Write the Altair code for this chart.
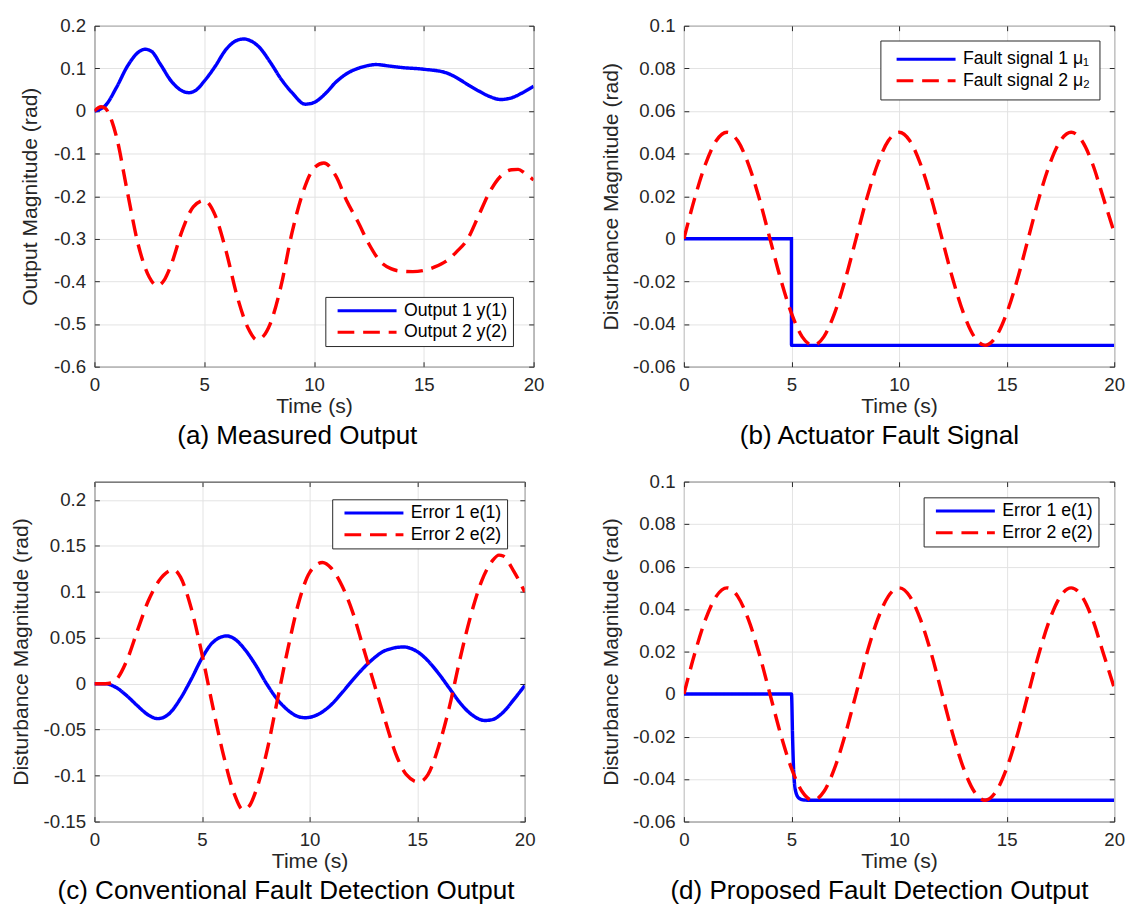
import altair as alt
import pandas as pd

FONT = "Liberation Sans"
INK = "#262626"
GRID = "#e2e2e2"
BLUE = "#0000ff"
RED = "#ff0000"
DASH = [17, 9]

# ---------------- (a) Measured Output ----------------
a_lab = ["Output 1 y(1)", "Output 2 y(2)"]
a_t1 = [0, 0.5, 1.0, 1.5, 2.0, 2.3, 2.6, 3.0, 3.5, 4.0, 4.3, 4.6, 5.0, 5.5, 6.0, 6.5,
        6.8, 7.1, 7.5, 8.0, 8.5, 9.0, 9.6, 10.0, 10.5, 11.0, 11.5, 12.0, 12.5, 12.8,
        13.5, 14.0, 15.0, 16.0, 16.5, 17.0, 17.5, 18.0, 18.5, 19.0, 19.5, 20.0]
a_v1 = [0.0, 0.013, 0.055, 0.105, 0.138, 0.145, 0.14, 0.11, 0.07, 0.047, 0.043, 0.048,
        0.07, 0.105, 0.145, 0.166, 0.169, 0.165, 0.15, 0.115, 0.075, 0.043, 0.016, 0.02,
        0.04, 0.068, 0.088, 0.1, 0.107, 0.109, 0.105, 0.102, 0.098, 0.09, 0.078, 0.062,
        0.047, 0.034, 0.027, 0.031, 0.043, 0.058]
a_t2 = [0, 0.3, 0.5, 0.8, 1.0, 1.5, 2.0, 2.5, 2.85, 3.2, 3.5, 4.0, 4.5, 5.0, 5.5, 6.0,
        6.5, 7.0, 7.4, 7.7, 8.0, 8.5, 9.0, 9.5, 10.0, 10.45, 11.0, 11.5, 12.0, 12.5,
        13.0, 13.5, 14.0, 14.5, 15.0, 15.5, 16.0, 16.5, 17.0, 17.5, 18.0, 18.5, 19.0,
        19.3, 19.6, 20.0]
a_v2 = [0, 0.01, 0.006, -0.025, -0.06, -0.19, -0.315, -0.39, -0.41, -0.395, -0.36,
        -0.28, -0.225, -0.21, -0.245, -0.33, -0.435, -0.51, -0.537, -0.528, -0.5, -0.41,
        -0.285, -0.19, -0.134, -0.122, -0.153, -0.212, -0.26, -0.312, -0.352, -0.37,
        -0.376, -0.377, -0.374, -0.366, -0.353, -0.33, -0.3, -0.245, -0.19, -0.153,
        -0.138, -0.137, -0.146, -0.162]
a_ticks = [-0.6, -0.5, -0.4, -0.3, -0.2, -0.1, 0, 0.1, 0.2]

# ---------------- (b) Actuator Fault Signal ----------------
b_lab = ["Fault signal 1 \u03bc\u2081", "Fault signal 2 \u03bc\u2082"]
b_t1 = [0, 4.999, 5, 20]
b_v1 = [0, 0, -0.05, -0.05]
b_t2 = [0, 0.5, 1, 1.5, 2, 2.5, 3, 3.5, 4, 4.5, 5, 5.5, 6, 6.5, 7, 7.5, 8, 8.5, 9, 9.5,
        10, 10.5, 11, 11.5, 12, 12.5, 13, 13.5, 14, 14.5, 15, 15.5, 16, 16.5, 17, 17.5,
        18, 18.5, 19, 19.5, 20]
b_v2 = [0, 0.019, 0.035, 0.046, 0.05, 0.046, 0.035, 0.019,
        0, -0.019, -0.035, -0.046, -0.05, -0.046, -0.035, -0.019,
        0, 0.019, 0.035, 0.046, 0.05, 0.046, 0.035, 0.019,
        0, -0.019, -0.035, -0.046, -0.05, -0.046, -0.035, -0.019,
        0, 0.019, 0.035, 0.046, 0.05, 0.046, 0.035, 0.019, 0.003]
bd_ticks = [-0.06, -0.04, -0.02, 0, 0.02, 0.04, 0.06, 0.08, 0.1]

# ---------------- (c) Conventional Fault Detection Output ----------------
cd_lab = ["Error 1 e(1)", "Error 2 e(2)"]
c_t1 = [0, 0.5, 1.0, 1.5, 2.0, 2.5, 2.95, 3.5, 4.0, 4.5, 5.0, 5.5, 6.15, 6.5, 7.0, 7.5,
        8.0, 8.5, 9.0, 9.5, 9.8, 10.5, 11.0, 11.5, 12.0, 12.5, 13.0, 13.5, 14.36, 15.0,
        15.5, 16.0, 16.5, 17.0, 17.5, 18.16, 18.5, 19.0, 19.5, 20.0]
c_v1 = [0, 0, -0.004, -0.013, -0.024, -0.034, -0.038, -0.032, -0.016, 0.005, 0.028,
        0.045, 0.052, 0.049, 0.037, 0.02, 0.0, -0.017, -0.029, -0.036, -0.037, -0.032,
        -0.023, -0.01, 0.004, 0.017, 0.028, 0.036, 0.04, 0.035, 0.025, 0.011, -0.005,
        -0.021, -0.033, -0.04, -0.039, -0.031, -0.017, -0.002]
c_t2 = [0, 0.5, 0.8, 1.0, 1.5, 2.0, 2.5, 3.0, 3.5, 3.7, 4.0, 4.5, 5.0, 5.5, 6.0, 6.5,
        6.9, 7.2, 7.5, 8.0, 8.5, 9.0, 9.5, 10.0, 10.6, 11.0, 11.5, 12.0, 12.5, 13.0,
        13.5, 14.0, 14.5, 15.07, 15.5, 16.0, 16.5, 17.0, 17.5, 18.0, 18.5, 18.8, 19.0,
        19.5, 20.0]
c_v2 = [0, 0, 0.001, 0.004, 0.025, 0.058, 0.09, 0.112, 0.123, 0.124, 0.116, 0.082,
        0.032, -0.025, -0.078, -0.12, -0.137, -0.133, -0.117, -0.075, -0.018, 0.039,
        0.089, 0.121, 0.132, 0.126, 0.107, 0.078, 0.039, 0.0, -0.039, -0.076, -0.099,
        -0.107, -0.099, -0.068, -0.025, 0.028, 0.075, 0.112, 0.134, 0.14, 0.139, 0.122,
        0.1]
c_ticks = [-0.15, -0.1, -0.05, 0, 0.05, 0.1, 0.15, 0.2]

# ---------------- (d) Proposed Fault Detection Output ----------------
d_t1 = [0, 2.5, 5.0, 5.05, 5.1, 5.2, 5.35, 5.6, 6.0, 10, 15, 20]
d_v1 = [0, 0, 0, -0.02, -0.036, -0.046, -0.049, -0.0499, -0.05, -0.05, -0.05, -0.05]
d_t2 = b_t2
d_v2 = b_v2

x_ticks = [0, 5, 10, 15, 20]

TICK = 5  # inward tick length


def panel(labels, series, ydom, yticks, ytitle, lorient, loffset, lpad, lclip, lrow,
          caption, width, height, extent, tpad, dx):
    leg = alt.Legend(
        orient=lorient, offset=loffset, title=None,
        labelFont=FONT, labelFontSize=18, labelColor="#000000", labelLimit=400,
        symbolType="stroke", symbolSize=3600, symbolStrokeWidth=3,
        strokeColor=INK, fillColor="white", padding=lpad, rowPadding=lrow,
        clipHeight=lclip, symbolOffset=6, labelOffset=6,
    )
    color = alt.Color("s:N", scale=alt.Scale(domain=labels, range=[BLUE, RED]), legend=leg)
    dash = alt.StrokeDash("s:N", scale=alt.Scale(domain=labels, range=[[1, 0], DASH]),
                          legend=leg)
    xscale = alt.Scale(domain=[0, 20], nice=False, zero=False)
    yscale = alt.Scale(domain=ydom, nice=False, zero=False)
    xenc = alt.X(
        "t:Q", scale=xscale,
        axis=alt.Axis(orient="bottom", values=x_ticks, title="Time (s)", labelFlush=False,
                      ticks=True, tickSize=TICK, tickColor=INK, offset=-TICK,
                      domain=False, grid=True, gridColor=GRID,
                      labelPadding=9, titlePadding=2, labelFontSize=19,
                      titleFontSize=21.5),
    )
    yenc = alt.Y(
        "v:Q", scale=yscale,
        axis=alt.Axis(orient="left", values=yticks, title=ytitle,
                      labelExpr="'' + round(datum.value*1000)/1000",
                      ticks=True, tickSize=TICK, tickColor=INK, offset=-TICK,
                      domain=False, grid=True, gridColor=GRID,
                      labelPadding=9, minExtent=extent + TICK, maxExtent=extent + TICK,
                      titlePadding=tpad, labelFontSize=19, titleFontSize=21.5),
    )
    frames = []
    for k, (lab, t, v) in enumerate(series):
        frames.append(pd.DataFrame({"t": t, "v": v, "s": lab, "k": k,
                                    "i": list(range(len(t)))}))
    df = pd.concat(frames, ignore_index=True)
    lines = (
        alt.Chart(df)
        .mark_line(interpolate="monotone", strokeWidth=3.5, clip=True)
        .encode(x=xenc, y=yenc, color=color, strokeDash=dash, order=alt.Order("i:Q"))
    )
    # inward ticks on the top and right edges (MATLAB box style)
    dummy = alt.Chart(df).mark_line(opacity=0).encode(
        x=alt.X("t:Q", scale=xscale,
                axis=alt.Axis(orient="top", values=x_ticks, title="", labels=False,
                              ticks=True, tickSize=TICK, tickColor=INK, offset=-TICK,
                              domain=False, grid=False, minExtent=0, maxExtent=0)),
        y=alt.Y("v:Q", scale=yscale,
                axis=alt.Axis(orient="right", values=yticks, title="", labels=False,
                              ticks=True, tickSize=TICK, tickColor=INK, offset=-TICK,
                              domain=False, grid=False, minExtent=0, maxExtent=0)),
        detail="s:N",
    )
    return alt.layer(lines, dummy).resolve_axis(x="independent", y="independent").properties(
        width=width, height=height,
        title=alt.TitleParams(caption, orient="bottom", anchor="middle", frame="group",
                              dx=dx, offset=6, fontSize=26.5, font=FONT,
                              fontWeight="normal", color="#000000"),
    )


pa = panel(a_lab, [(a_lab[0], a_t1, a_v1), (a_lab[1], a_t2, a_v2)],
           [-0.6, 0.2], a_ticks, "Output Magnitude (rad)", "bottom-right", 21, 5, 18, 4,
           "(a) Measured Output", 447, 347, 42, 12, -17)
pb = panel(b_lab, [(b_lab[0], b_t1, b_v1), (b_lab[1], b_t2, b_v2)],
           [-0.06, 0.1], bd_ticks, "Disturbance Magnitude (rad)", "top-right", 15, 9, 20, 2,
           "(b) Actuator Fault Signal", 438, 347, 53, 10, -20)
pc = panel(cd_lab, [(cd_lab[0], c_t1, c_v1), (cd_lab[1], c_t2, c_v2)],
           [-0.15, 0.22], c_ticks, "Disturbance Magnitude (rad)", "top-right", 18, 5, 18, 4,
           "(c) Conventional Fault Detection Output", 438, 346, 52, 11, -24)
pd_ = panel(cd_lab, [(cd_lab[0], d_t1, d_v1), (cd_lab[1], d_t2, d_v2)],
            [-0.06, 0.1], bd_ticks, "Disturbance Magnitude (rad)", "top-right", 16, 5, 18, 4,
            "(d) Proposed Fault Detection Output", 438, 346, 53, 10, -20)

chart = (
    alt.concat(pa, pb, pc, pd_, columns=2,
               spacing={"row": 22, "column": 55},
               align={"row": "all", "column": "none"})
    .resolve_scale(color="independent", strokeDash="independent")
    .properties(padding={"left": 2, "top": 0, "right": 0, "bottom": 0})
    .configure(font=FONT)
    .configure_view(stroke=INK, strokeWidth=1)
    .configure_axis(labelFont=FONT, titleFont=FONT, labelColor=INK, titleColor=INK,
                    titleFontWeight="normal", gridWidth=1)
)

chart.save("out.html", embed_options={"renderer": "svg", "actions": False})
